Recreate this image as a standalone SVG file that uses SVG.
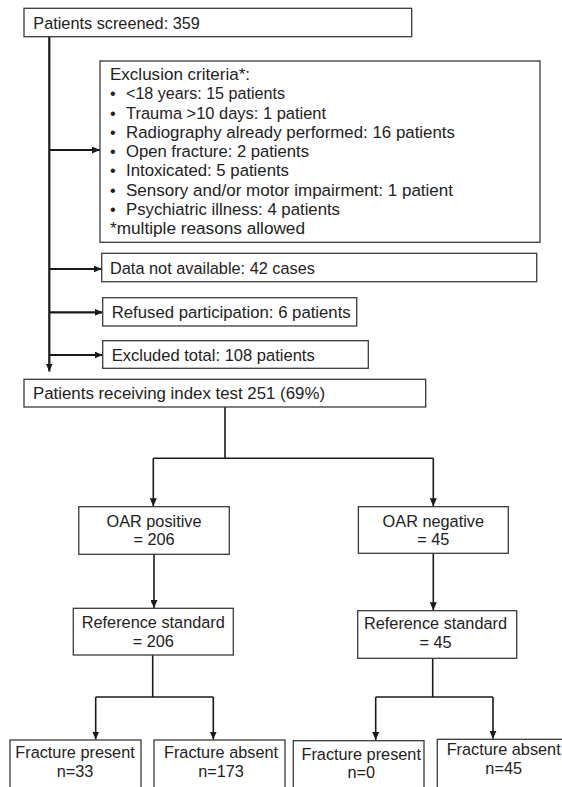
<svg xmlns="http://www.w3.org/2000/svg" width="562" height="787" viewBox="0 0 562 787">
<style>
text{font-family:"Liberation Sans",Arial,sans-serif;font-size:16.3px;fill:#222}
.c{text-anchor:middle}
.box{fill:#fff;stroke:#3a3a3a;stroke-width:1.3}
.thick{fill:none;stroke:#1a1a1a;stroke-width:2.2}
.thin{fill:none;stroke:#1a1a1a;stroke-width:1.6}
</style>
<defs>
<marker id="ah" viewBox="0 0 8 7" refX="8" refY="3.5" markerWidth="8" markerHeight="7" markerUnits="userSpaceOnUse" orient="auto">
<path d="M0,0 L8,3.5 L0,7 Z" fill="#1a1a1a"/>
</marker>
</defs>
<rect width="562" height="787" fill="#fff"/>
<g id="connectors">
<path class="thick" d="M49.3,36.7 V371.5" marker-end="url(#ah)"/>
<path class="thick" d="M49.3,150 H100" marker-end="url(#ah)"/>
<path class="thick" d="M49.3,269 H101.7" marker-end="url(#ah)"/>
<path class="thick" d="M49.3,312.3 H102.7" marker-end="url(#ah)"/>
<path class="thick" d="M49.3,355 H102.7" marker-end="url(#ah)"/>
<path class="thin" d="M225,407 V458.3"/>
<path class="thin" d="M153.3,458.3 H433.3"/>
<path class="thin" d="M153.3,458.3 V506.3" marker-end="url(#ah)"/>
<path class="thin" d="M433.3,458.3 V506.3" marker-end="url(#ah)"/>
<path class="thin" d="M154,554.3 V608" marker-end="url(#ah)"/>
<path class="thin" d="M433.3,553.3 V610.3" marker-end="url(#ah)"/>
<path class="thin" d="M152.7,655 V697"/>
<path class="thin" d="M95.7,697 H213.3"/>
<path class="thin" d="M95.7,697 V739.5" marker-end="url(#ah)"/>
<path class="thin" d="M213.3,697 V739.5" marker-end="url(#ah)"/>
<path class="thin" d="M432.7,658.3 V697"/>
<path class="thin" d="M375.7,697 H493"/>
<path class="thin" d="M375.7,697 V740" marker-end="url(#ah)"/>
<path class="thin" d="M493,697 V738.8" marker-end="url(#ah)"/>
</g>
<g id="screened">
<rect class="box" x="24" y="8.3" width="387.7" height="28.4"/>
<text x="33.3" y="29">Patients screened: 359</text>
</g>
<g id="exclusion">
<rect class="box" x="100" y="61" width="440" height="181.3"/>
<text x="110" y="80" textLength="140" lengthAdjust="spacingAndGlyphs">Exclusion criteria*:</text>
<text x="110" y="99.3">•</text><text x="126" y="99.3" textLength="159" lengthAdjust="spacingAndGlyphs">&lt;18 years: 15 patients</text>
<text x="110" y="118.5">•</text><text x="126" y="118.5" textLength="200" lengthAdjust="spacingAndGlyphs">Trauma &gt;10 days: 1 patient</text>
<text x="110" y="137.8">•</text><text x="126" y="137.8" textLength="329" lengthAdjust="spacingAndGlyphs">Radiography already performed: 16 patients</text>
<text x="110" y="157">•</text><text x="126" y="157" textLength="183" lengthAdjust="spacingAndGlyphs">Open fracture: 2 patients</text>
<text x="110" y="176.3">•</text><text x="126" y="176.3" textLength="163" lengthAdjust="spacingAndGlyphs">Intoxicated: 5 patients</text>
<text x="110" y="195.5">•</text><text x="126" y="195.5" textLength="327" lengthAdjust="spacingAndGlyphs">Sensory and/or motor impairment: 1 patient</text>
<text x="110" y="214.8">•</text><text x="126" y="214.8" textLength="214" lengthAdjust="spacingAndGlyphs">Psychiatric illness: 4 patients</text>
<text x="110" y="234" textLength="195" lengthAdjust="spacingAndGlyphs">*multiple reasons allowed</text>
</g>
<g id="notavailable">
<rect class="box" x="101.7" y="253.3" width="435" height="28.4"/>
<text x="110" y="274" textLength="205" lengthAdjust="spacingAndGlyphs">Data not available: 42 cases</text>
</g>
<g id="refused">
<rect class="box" x="102.7" y="297.7" width="254" height="28.3"/>
<text x="111.7" y="318.3" textLength="239" lengthAdjust="spacingAndGlyphs">Refused participation: 6 patients</text>
</g>
<g id="excluded">
<rect class="box" x="102.7" y="340.7" width="265.6" height="27.6"/>
<text x="111.7" y="360.7" textLength="203" lengthAdjust="spacingAndGlyphs">Excluded total: 108 patients</text>
</g>
<g id="indextest">
<rect class="box" x="24" y="379.3" width="401.7" height="27.7"/>
<text x="33" y="399.3" textLength="292" lengthAdjust="spacingAndGlyphs">Patients receiving index test 251 (69%)</text>
</g>
<g id="oarpos">
<rect class="box" x="78.8" y="506.7" width="150.5" height="47.6"/>
<text class="c" x="154" y="526.7">OAR positive</text>
<text class="c" x="154" y="545">= 206</text>
</g>
<g id="oarneg">
<rect class="box" x="358.4" y="506.7" width="149.9" height="46.6"/>
<text class="c" x="433.3" y="526.7">OAR negative</text>
<text class="c" x="433.3" y="545">= 45</text>
</g>
<g id="refpos">
<rect class="box" x="73.3" y="608.3" width="160" height="46.7"/>
<text class="c" x="153.3" y="627.7">Reference standard</text>
<text class="c" x="153.3" y="646.7">= 206</text>
</g>
<g id="refneg">
<rect class="box" x="357.7" y="610.7" width="159" height="47.6"/>
<text class="c" x="435.5" y="629.3">Reference standard</text>
<text class="c" x="435.5" y="648.3">= 45</text>
</g>
<g id="fp1">
<rect class="box" x="10" y="740" width="131" height="60"/>
<text class="c" x="75" y="758.3">Fracture present</text>
<text class="c" x="75" y="777.3">n=33</text>
</g>
<g id="fa1">
<rect class="box" x="154" y="740" width="131" height="60"/>
<text class="c" x="221" y="758.3">Fracture absent</text>
<text class="c" x="221" y="777">n=173</text>
</g>
<g id="fp2">
<rect class="box" x="293.3" y="740.7" width="130.7" height="60"/>
<text class="c" x="361.2" y="760">Fracture present</text>
<text class="c" x="361.2" y="778.3">n=0</text>
</g>
<g id="fa2">
<rect class="box" x="437.3" y="739.3" width="130" height="60"/>
<text class="c" x="503.7" y="755">Fracture absent</text>
<text class="c" x="503.7" y="774">n=45</text>
</g>
</svg>
